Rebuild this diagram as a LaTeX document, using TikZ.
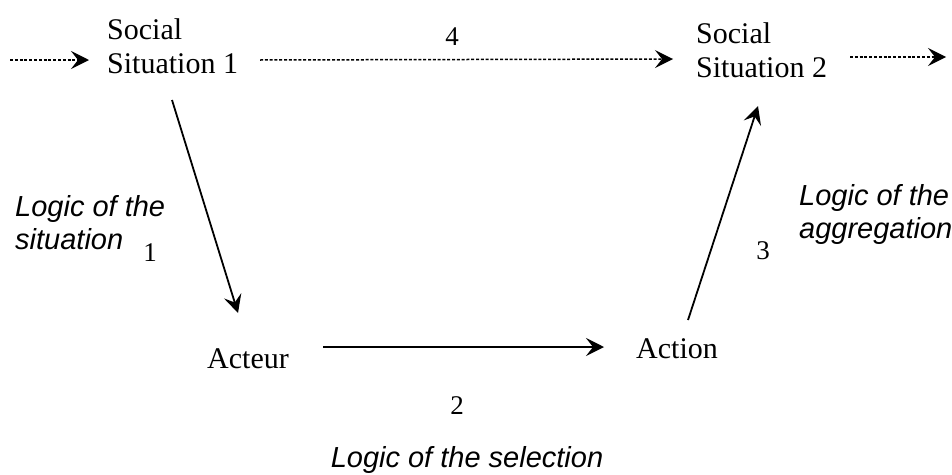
\documentclass[tikz,border=0pt]{standalone}
\usepackage{fontspec}
\setmainfont{Liberation Serif}
\newfontfamily\lsans{Liberation Sans}
\usetikzlibrary{arrows.meta}
\begin{document}
\begin{tikzpicture}[x=1pt,y=-1pt,
  txt/.style={inner sep=0pt, font=\fontsize{30}{34}\selectfont, align=left},
  logic/.style={inner sep=0pt, font=\lsans\itshape\fontsize{29}{33}\selectfont, align=left},
  num/.style={inner sep=0pt, font=\fontsize{27}{30}\selectfont},
  arr/.style={-{Stealth[length=18pt,width=18pt,inset=7pt]}, line width=1.8pt},
  darr/.style={arr, line width=1.5pt, dash pattern=on 3pt off 1.8pt}]
\useasboundingbox (0,0) rectangle (952,474);
% nodes
\node[txt, anchor=north west] (ss1) at (107,18) {Social\\Situation 1};
\node[txt, anchor=north west] (ss2) at (696,22) {Social\\Situation 2};
\node[txt, anchor=base west] (acteur) at (207,368) {Acteur};
\node[txt, anchor=base west] (action) at (636,358) {Action};
\node[num, anchor=base] (n4) at (452,45) {4};
\node[num, anchor=base] (n1) at (150,261) {1};
\node[num, anchor=base] (n2) at (457,414) {2};
\node[num, anchor=base] (n3) at (763,259) {3};
\node[logic, anchor=north west] (ls) at (15,195) {Logic of the\\situation};
\node[logic, anchor=north west] (la) at (799,184) {Logic of the\\aggregation};
\node[logic, anchor=base] (lsel) at (467,467) {Logic of the selection};
% connector ends
\coordinate (in1) at (10,60);
\coordinate (ss1in) at (89,60);
\coordinate (ss1out) at (260,60);
\coordinate (ss2in) at (673,59);
\coordinate (ss2out) at (850,57);
\coordinate (out) at (946,57);
\coordinate (ss1dn) at (172,100);
\coordinate (actup) at (238,313);
\coordinate (actr) at (323,347);
\coordinate (acnl) at (604,347);
\coordinate (acnu) at (688,320);
\coordinate (ss2dn) at (758,106);
% connectors
\draw[darr] (in1) -- (ss1in);
\draw[darr] (ss1out) -- (ss2in);
\draw[darr] (ss2out) -- (out);
\draw[arr] (ss1dn) -- (actup);
\draw[arr] (actr) -- (acnl);
\draw[arr] (acnu) -- (ss2dn);
\end{tikzpicture}
\end{document}
